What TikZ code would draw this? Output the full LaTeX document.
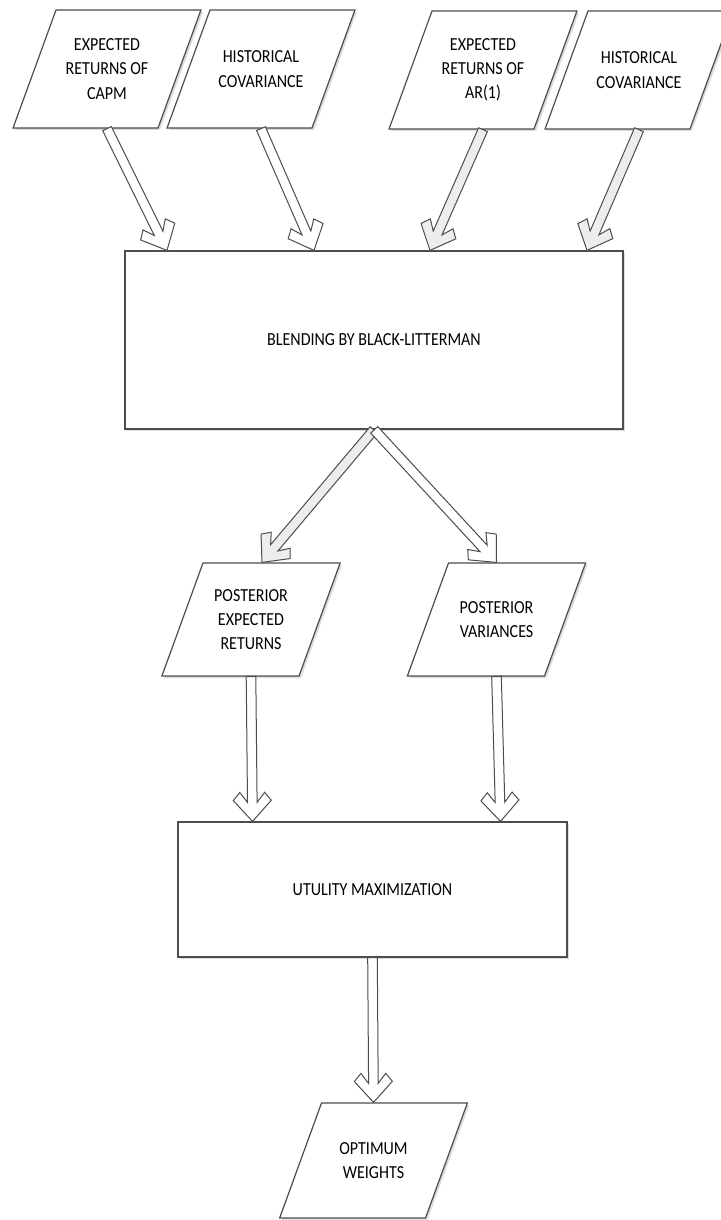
\documentclass[tikz,border=0pt]{standalone}
\usepackage{fontspec}
\setmainfont{Carlito}[FakeStretch=0.87]
\usetikzlibrary{shapes.geometric}
\usetikzlibrary{shadows}
\usetikzlibrary{calc}

\definecolor{linegray}{HTML}{4D4D4D}
\definecolor{shadowgray}{HTML}{DCDCDC}
\definecolor{arrowgray}{HTML}{EDEDED}
\newcommand{\boxfont}{\fontsize{9.2}{12.1}\selectfont}
% text block of a data box: height, width, text
\newcommand{\dbtext}[3]{\parbox[c][#1][c]{#2}{\centering #3}}

% hollow block arrow from #2 to #3, filled with #1
\newcommand{\hollowarrow}[3][white]{%
  \path #2 coordinate (ha) #3 coordinate (hb);
  \pgfmathanglebetweenpoints{\pgfpointanchor{ha}{center}}{\pgfpointanchor{hb}{center}}%
  \let\arrang\pgfmathresult
  \pgfpointdiff{\pgfpointanchor{ha}{center}}{\pgfpointanchor{hb}{center}}%
  \pgfgetlastxy{\arrdx}{\arrdy}%
  \pgfmathveclen{\arrdx}{\arrdy}%
  \let\arrlen\pgfmathresult
  \fill[arrshadow, shift={(1pt,-1pt)}, shift={(hb)}, rotate=\arrang]
    (-\arrlen pt,2.4pt) -- (-9.5pt,2.4pt) -- (-14.5pt,6.2pt) -- (-10.5pt,9.5pt) -- (0pt,0pt)
    -- (-10.5pt,-9.5pt) -- (-14.5pt,-6.2pt) -- (-9.5pt,-2.4pt) -- (-\arrlen pt,-2.4pt) -- cycle;
  \draw[arrline, fill=#1, shift={(hb)}, rotate=\arrang]
    (-\arrlen pt,2.4pt) -- (-9.5pt,2.4pt) -- (-14.5pt,6.2pt) -- (-10.5pt,9.5pt) -- (0pt,0pt)
    -- (-10.5pt,-9.5pt) -- (-14.5pt,-6.2pt) -- (-9.5pt,-2.4pt) -- (-\arrlen pt,-2.4pt) -- cycle;
}

\begin{document}
\begin{tikzpicture}[x=0.5pt, y=-0.5pt,
  boxshadow/.style={drop shadow={shadow xshift=1pt, shadow yshift=-1pt, fill=shadowgray, opacity=1}},
  databox/.style={trapezium, trapezium left angle=70, trapezium right angle=110,
    draw=linegray, fill=white, line width=0.6pt, inner sep=0pt, font=\boxfont, boxshadow},
  procbox/.style={rectangle, draw=linegray, fill=white, line width=0.6pt, inner sep=0pt,
    align=center, font=\boxfont, boxshadow},
  arrline/.style={draw=linegray, line width=0.5pt, line join=miter},
  arrshadow/.style={fill=shadowgray}]
\useasboundingbox (0,0) rectangle (721,1220);

\node[databox] (capm) at (107,69) {\dbtext{59pt}{51pt}{EXPECTED\\RETURNS OF\\CAPM}};
\node[databox] (hcovA) at (261,69) {\dbtext{59pt}{51pt}{HISTORICAL\\COVARIANCE}};
\node[databox] (arone) at (483,70) {\dbtext{59pt}{51pt}{EXPECTED\\RETURNS OF\\AR(1)}};
\node[databox] (hcovB) at (639,70) {\dbtext{59pt}{51pt}{HISTORICAL\\COVARIANCE}};

\node[procbox, minimum width=249pt, minimum height=89pt] (blend) at (374,340) {BLENDING BY BLACK-LITTERMAN};

\node[databox] (postret) at (251,619.5) {\dbtext{56.5pt}{48pt}{POSTERIOR\\EXPECTED\\RETURNS}};
\node[databox] (postvar) at (496.5,619.5) {\dbtext{56.5pt}{48pt}{POSTERIOR\\VARIANCES}};

\node[procbox, minimum width=194.5pt, minimum height=67.5pt] (util) at (372.5,889.5) {UTULITY MAXIMIZATION};

\node[databox] (weights) at (373.5,1160.5) {\dbtext{57.5pt}{52pt}{OPTIMUM\\WEIGHTS}};

\hollowarrow{(capm.south)}{($(blend.north)+(-207,0)$)}
\hollowarrow{(hcovA.south)}{($(blend.north)+(-60,0)$)}
\hollowarrow[arrowgray]{(arone.south)}{($(blend.north)+(56,0)$)}
\hollowarrow[arrowgray]{(hcovB.south)}{($(blend.north)+(213,0)$)}

\hollowarrow[arrowgray]{(blend.south)}{($(postret.north)+(11,0)$)}
\hollowarrow{(blend.south)}{(postvar.north)}

\hollowarrow{(postret.south)}{($(util.north)+(-120,0)$)}
\hollowarrow{(postvar.south)}{($(util.north)+(128,0)$)}

\hollowarrow{(util.south)}{(weights.north)}

\end{tikzpicture}
\end{document}
